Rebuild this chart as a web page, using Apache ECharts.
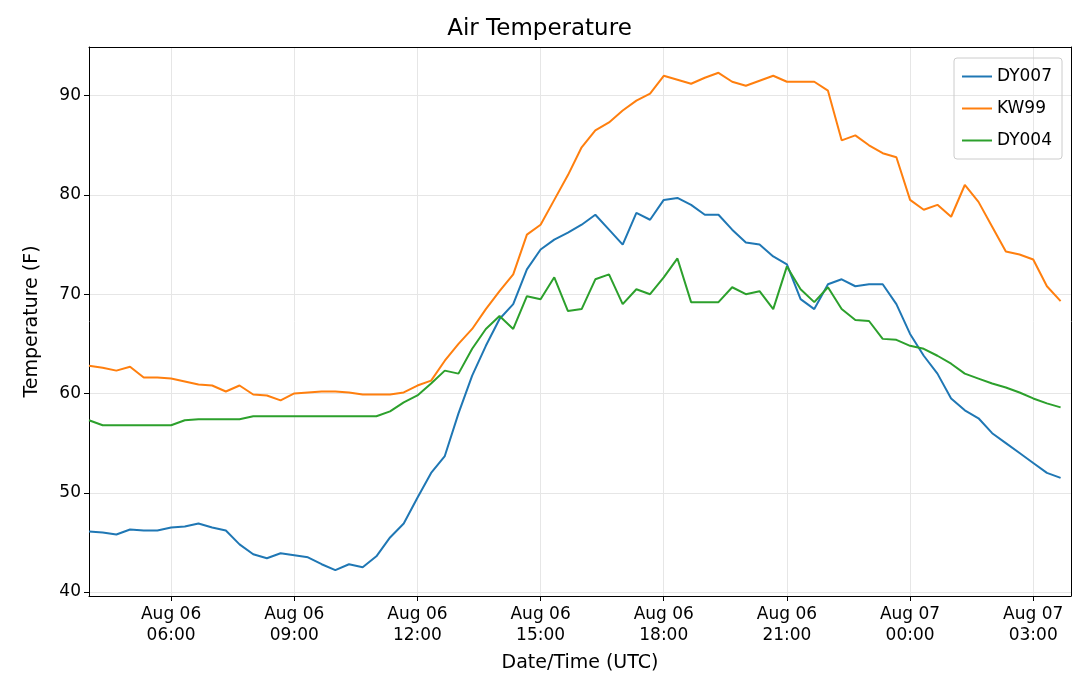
<!DOCTYPE html>
<html>
<head>
<meta charset="utf-8">
<script src="https://cdn.jsdelivr.net/npm/echarts@6/dist/echarts.min.js"></script>
<style>html,body{margin:0;background:#fff}#chart{width:1079px;height:684px}</style>
</head>
<body>
<div id="chart"></div>
<script>
// hours since Aug 06 00:00 UTC, one reading every 20 minutes from 04:00
var startHour = 4;
var stepHour = 1 / 3;
var tickHours = [6, 9, 12, 15, 18, 21, 24, 27];
var tickLabels = ['Aug 06\n06:00', 'Aug 06\n09:00', 'Aug 06\n12:00', 'Aug 06\n15:00', 'Aug 06\n18:00', 'Aug 06\n21:00', 'Aug 07\n00:00', 'Aug 07\n03:00'];
var yTicks = [40, 50, 60, 70, 80, 90];

var dy007 = [46.1, 46.0, 45.8, 46.3, 46.2, 46.2, 46.5, 46.6, 46.9, 46.5, 46.2, 44.8,
  43.8, 43.4, 43.9, 43.7, 43.5, 42.8, 42.2, 42.8, 42.5, 43.6, 45.5, 46.9,
  49.5, 52.0, 53.7, 58.0, 61.8, 64.8, 67.5, 69.0, 72.5, 74.5, 75.5, 76.2,
  77.0, 78.0, 76.5, 75.0, 78.2, 77.5, 79.5, 79.7, 79.0, 78.0, 78.0, 76.5,
  75.2, 75.0, 73.8, 73.0, 69.5, 68.5, 71.0, 71.5, 70.8, 71.0, 71.0, 69.0,
  66.0, 63.8, 62.0, 59.5, 58.3, 57.5, 56.0, 55.0, 54.0, 53.0, 52.0, 51.5];
var kw99 = [62.8, 62.6, 62.3, 62.7, 61.6, 61.6, 61.5, 61.2, 60.9, 60.8, 60.2, 60.8,
  59.9, 59.8, 59.3, 60.0, 60.1, 60.2, 60.2, 60.1, 59.9, 59.9, 59.9, 60.1,
  60.8, 61.3, 63.3, 65.0, 66.5, 68.5, 70.3, 72.0, 76.0, 77.0, 79.5, 82.0,
  84.8, 86.5, 87.3, 88.5, 89.5, 90.2, 92.0, 91.6, 91.2, 91.8, 92.3, 91.4,
  91.0, 91.5, 92.0, 91.4, 91.4, 91.4, 90.5, 85.5, 86.0, 85.0, 84.2, 83.8,
  79.5, 78.5, 79.0, 77.8, 81.0, 79.3, 76.8, 74.3, 74.0, 73.5, 70.8, 69.3];
var dy004 = [57.3, 56.8, 56.8, 56.8, 56.8, 56.8, 56.8, 57.3, 57.4, 57.4, 57.4, 57.4,
  57.7, 57.7, 57.7, 57.7, 57.7, 57.7, 57.7, 57.7, 57.7, 57.7, 58.2, 59.1,
  59.8, 61.0, 62.3, 62.0, 64.5, 66.5, 67.8, 66.5, 69.8, 69.5, 71.7, 68.3,
  68.5, 71.5, 72.0, 69.0, 70.5, 70.0, 71.7, 73.6, 69.2, 69.2, 69.2, 70.7,
  70.0, 70.3, 68.5, 72.8, 70.5, 69.2, 70.7, 68.5, 67.4, 67.3, 65.5, 65.4,
  64.8, 64.5, 63.8, 63.0, 62.0, 61.5, 61.0, 60.6, 60.1, 59.5, 59.0, 58.6];

function pairs(vals) {
  return vals.map(function (v, i) { return [startHour + i * stepHour, v]; });
}

var font = 'DejaVu Sans';
var frame = { show: true, onZero: false, lineStyle: { color: '#000' } };
var myChart = echarts.init(document.getElementById('chart'));
var option = {
  animation: false,
  textStyle: { fontFamily: font },
  title: {
    text: 'Air Temperature', left: 'center', top: 13,
    textStyle: { fontFamily: font, fontSize: 23, fontWeight: 'normal', color: '#000' }
  },
  legend: {
    orient: 'vertical', right: 17, top: 58,
    data: ['DY007', 'KW99', 'DY004'],
    icon: 'path://M0,0 L30,0 L30,2 L0,2 Z', itemWidth: 30, itemHeight: 2,
    itemGap: 15, padding: [10, 10, 10, 8],
    borderColor: '#ccc', borderWidth: 1, borderRadius: 3,
    textStyle: { fontFamily: font, fontSize: 17, color: '#000' }
  },
  grid: { left: 89, right: 8, top: 47, bottom: 88 },
  xAxis: [{
    type: 'value', min: 4, max: 27.92,
    name: 'Date/Time (UTC)', nameLocation: 'middle', nameGap: 58,
    nameTextStyle: { fontFamily: font, fontSize: 19, color: '#000' },
    axisLine: frame,
    axisTick: { customValues: tickHours, length: 5, lineStyle: { color: '#000' } },
    axisLabel: {
      customValues: tickHours, color: '#000', fontSize: 17, lineHeight: 21,
      formatter: function (v) { return tickLabels[tickHours.indexOf(Math.round(v))] || ''; }
    },
    splitLine: { show: true, lineStyle: { color: '#e6e6e6' } }
  }, {
    type: 'value', position: 'top', min: 4, max: 27.92,
    axisLine: frame, axisTick: { show: false }, axisLabel: { show: false }, splitLine: { show: false }
  }],
  yAxis: [{
    type: 'value', min: 39.6, max: 94.9,
    name: 'Temperature (F)', nameLocation: 'middle', nameGap: 47,
    nameTextStyle: { fontFamily: font, fontSize: 19, color: '#000' },
    axisLine: frame,
    axisTick: { show: true, customValues: yTicks, length: 5, lineStyle: { color: '#000' } },
    axisLabel: { customValues: yTicks, color: '#000', fontSize: 17 },
    splitLine: { show: true, lineStyle: { color: '#e6e6e6' } }
  }, {
    type: 'value', position: 'right', min: 39.6, max: 94.9,
    axisLine: frame, axisTick: { show: false }, axisLabel: { show: false }, splitLine: { show: false }
  }],
  series: [
    { name: 'DY007', type: 'line', data: pairs(dy007), showSymbol: false, lineStyle: { width: 2, color: '#1f77b4' }, itemStyle: { color: '#1f77b4' } },
    { name: 'KW99', type: 'line', data: pairs(kw99), showSymbol: false, lineStyle: { width: 2, color: '#ff7f0e' }, itemStyle: { color: '#ff7f0e' } },
    { name: 'DY004', type: 'line', data: pairs(dy004), showSymbol: false, lineStyle: { width: 2, color: '#2ca02c' }, itemStyle: { color: '#2ca02c' } }
  ]
};
myChart.setOption(option);
</script>
</body>
</html>
